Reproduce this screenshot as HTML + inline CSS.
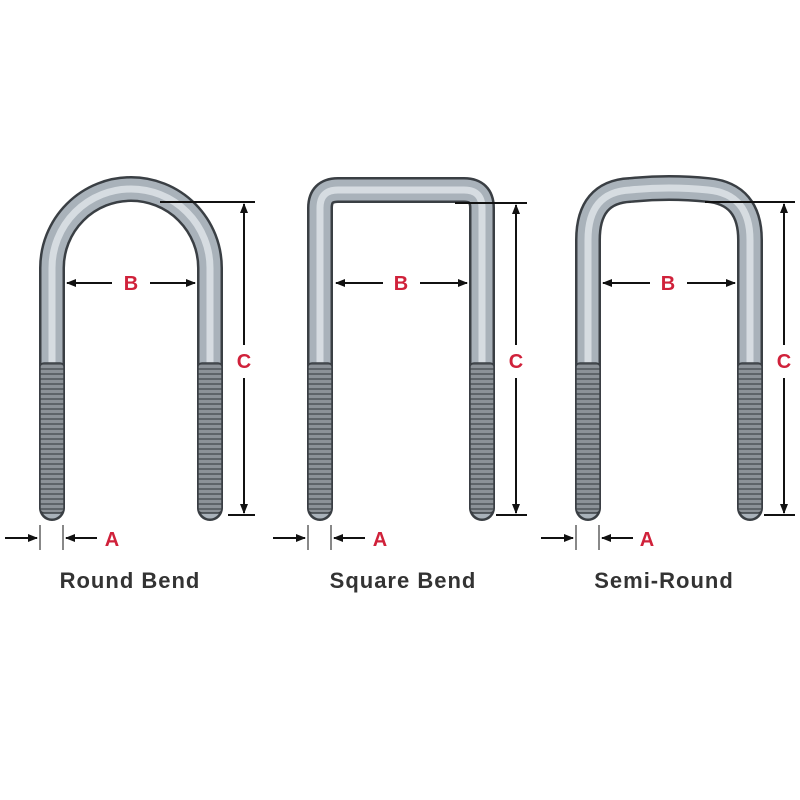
<!DOCTYPE html>
<html><head><meta charset="utf-8"><style>html,body{margin:0;padding:0;background:#fff}svg{display:block}</style></head>
<body>
<svg width="800" height="800" viewBox="0 0 800 800" xmlns="http://www.w3.org/2000/svg">
<defs>
<pattern id="thr" width="6" height="5" patternUnits="userSpaceOnUse">
<rect width="6" height="5" fill="#8c9298"/><rect y="3" width="6" height="2" fill="#5e6469"/>
</pattern>
<marker id="ah" markerWidth="10" markerHeight="8" refX="9" refY="4" orient="auto" markerUnits="userSpaceOnUse"><path d="M0,0 L10,4 L0,8 z" fill="#111"/></marker>
</defs>
<g fill="none" stroke-linecap="round" stroke-linejoin="round">
<path d="M52,508 V268 A79,79 0 0 1 210,268 V508" stroke="#3a3f44" stroke-width="26"/>
<path d="M52,508 V268 A79,79 0 0 1 210,268 V508" stroke="#a9b2ba" stroke-width="21"/>
<path d="M52,508 V268 A79,79 0 0 1 210,268 V508" stroke="#d6dce1" stroke-width="7"/>
<path d="M320,508 V208 Q320,190 338,190 H464 Q482,190 482,208 V508" stroke="#3a3f44" stroke-width="26"/>
<path d="M320,508 V208 Q320,190 338,190 H464 Q482,190 482,208 V508" stroke="#a9b2ba" stroke-width="21"/>
<path d="M320,508 V208 Q320,190 338,190 H464 Q482,190 482,208 V508" stroke="#d6dce1" stroke-width="7"/>
<path d="M588,508 V240 Q588,192 630,190 Q669,186 708,190 Q750,194 750,240 V508" stroke="#3a3f44" stroke-width="26"/>
<path d="M588,508 V240 Q588,192 630,190 Q669,186 708,190 Q750,194 750,240 V508" stroke="#a9b2ba" stroke-width="21"/>
<path d="M588,508 V240 Q588,192 630,190 Q669,186 708,190 Q750,194 750,240 V508" stroke="#d6dce1" stroke-width="7"/>
</g>
<g stroke="#3a3f44" stroke-width="1.5" fill="url(#thr)">
<rect x="40" y="363" width="24" height="150" rx="4"/><rect x="198" y="363" width="24" height="150" rx="4"/>
<rect x="308" y="363" width="24" height="150" rx="4"/><rect x="470" y="363" width="24" height="150" rx="4"/>
<rect x="576" y="363" width="24" height="150" rx="4"/><rect x="738" y="363" width="24" height="150" rx="4"/>
</g>
<g stroke="#111" stroke-width="2" fill="none">
<line x1="160" y1="202" x2="255" y2="202"/><line x1="228" y1="515" x2="255" y2="515"/>
<line x1="244" y1="345" x2="244" y2="204" marker-end="url(#ah)"/><line x1="244" y1="378" x2="244" y2="513" marker-end="url(#ah)"/>
<line x1="112" y1="283" x2="67" y2="283" marker-end="url(#ah)"/><line x1="150" y1="283" x2="195" y2="283" marker-end="url(#ah)"/>
<line x1="40" y1="525" x2="40" y2="550" stroke-width="1"/><line x1="63" y1="525" x2="63" y2="550" stroke-width="1"/>
<line x1="5" y1="538" x2="37" y2="538" marker-end="url(#ah)"/><line x1="97" y1="538" x2="66" y2="538" marker-end="url(#ah)"/>
<line x1="455" y1="203" x2="527" y2="203"/><line x1="496" y1="515" x2="527" y2="515"/>
<line x1="516" y1="345" x2="516" y2="205" marker-end="url(#ah)"/><line x1="516" y1="378" x2="516" y2="513" marker-end="url(#ah)"/>
<line x1="383" y1="283" x2="336" y2="283" marker-end="url(#ah)"/><line x1="420" y1="283" x2="467" y2="283" marker-end="url(#ah)"/>
<line x1="308" y1="525" x2="308" y2="550" stroke-width="1"/><line x1="331" y1="525" x2="331" y2="550" stroke-width="1"/>
<line x1="273" y1="538" x2="305" y2="538" marker-end="url(#ah)"/><line x1="365" y1="538" x2="334" y2="538" marker-end="url(#ah)"/>
<line x1="705" y1="202" x2="795" y2="202"/><line x1="764" y1="515" x2="795" y2="515"/>
<line x1="784" y1="345" x2="784" y2="204" marker-end="url(#ah)"/><line x1="784" y1="378" x2="784" y2="513" marker-end="url(#ah)"/>
<line x1="650" y1="283" x2="603" y2="283" marker-end="url(#ah)"/><line x1="687" y1="283" x2="735" y2="283" marker-end="url(#ah)"/>
<line x1="576" y1="525" x2="576" y2="550" stroke-width="1"/><line x1="599" y1="525" x2="599" y2="550" stroke-width="1"/>
<line x1="541" y1="538" x2="573" y2="538" marker-end="url(#ah)"/><line x1="633" y1="538" x2="602" y2="538" marker-end="url(#ah)"/>
</g>
<g font-family="Liberation Sans, sans-serif" font-weight="bold" fill="#d0213a" font-size="20" text-anchor="middle">
<text x="131" y="290">B</text><text x="401" y="290">B</text><text x="668" y="290">B</text>
<text x="244" y="368">C</text><text x="516" y="368">C</text><text x="784" y="368">C</text>
<text x="112" y="546">A</text><text x="380" y="546">A</text><text x="647" y="546">A</text>
</g>
<g font-family="Liberation Sans, sans-serif" font-weight="bold" fill="#333" font-size="22" letter-spacing="1" text-anchor="middle">
<text x="130" y="588">Round Bend</text><text x="403" y="588">Square Bend</text><text x="664" y="588">Semi-Round</text>
</g>
</svg>
</body></html>
